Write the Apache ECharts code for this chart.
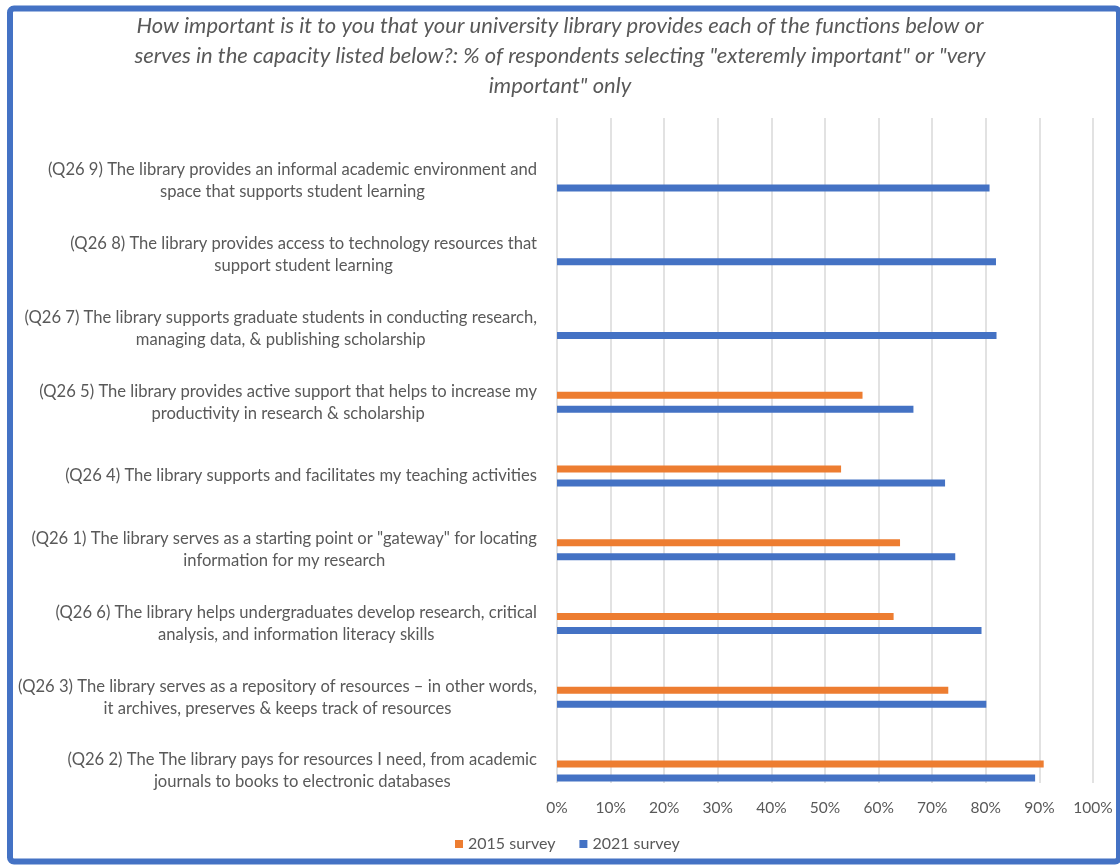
<!DOCTYPE html>
<html>
<head>
<meta charset="utf-8">
<script src="https://cdn.jsdelivr.net/npm/echarts@6/dist/echarts.min.js"></script>
<style>
html,body{margin:0;padding:0;background:#fff;}
#chart{width:1120px;height:865px;}
</style>
</head>
<body>
<div id="chart"></div>
<script>
// Categories, top to bottom as shown
const categories = [
  '(Q26 9) The library provides an informal academic environment and\nspace that supports student learning',
  '(Q26 8) The library provides access to technology resources that\nsupport student learning',
  '(Q26 7) The library supports graduate students in conducting research,\nmanaging data, & publishing scholarship',
  '(Q26 5) The library provides active support that helps to increase my\nproductivity in research & scholarship',
  '(Q26 4) The library supports and facilitates my teaching activities',
  '(Q26 1) The library serves as a starting point or "gateway" for locating\ninformation for my research',
  '(Q26 6) The library helps undergraduates develop research, critical\nanalysis, and information literacy skills',
  '(Q26 3) The library serves as a repository of resources \u2013 in other words,\nit archives, preserves & keeps track of resources',
  '(Q26 2) The The library pays for resources I need, from academic\njournals to books to electronic databases'
];
const seriesNames = ['2015 survey', '2021 survey'];
const survey2015 = [null, null, null, 57.0, 53.0, 64.0, 62.8, 73.0, 90.8];
const survey2021 = [80.7, 81.9, 82.0, 66.5, 72.4, 74.3, 79.2, 80.1, 89.2];
const xTicks = [0, 10, 20, 30, 40, 50, 60, 70, 80, 90, 100];

const titleText = 'How important is it to you that your university library provides each of the functions below or\nserves in the capacity listed below?: % of respondents selecting "exteremly important" or "very\nimportant" only';

const FONT = 'Lato';
const GRAY = '#595959';

const chart = echarts.init(document.getElementById('chart'), null, {renderer: 'canvas'});
chart.setOption({
  backgroundColor: '#ffffff',
  animation: false,
  title: {
    text: titleText,
    left: 'center',
    top: 6,
    textStyle: {
      fontFamily: FONT, fontStyle: 'italic', fontWeight: 'normal',
      fontSize: 22, color: GRAY, lineHeight: 30
    }
  },
  legend: {
    data: seriesNames,
    left: 450,
    top: 831,
    icon: 'rect',
    itemWidth: 8,
    itemHeight: 8,
    itemGap: 24,
    textStyle: {fontFamily: FONT, fontSize: 16, color: GRAY}
  },
  graphic: [{
    type: 'rect',
    shape: {x: 10, y: 8.5, width: 1109, height: 853, r: 4},
    style: {fill: 'none', stroke: '#4472C4', lineWidth: 6},
    silent: true,
    z: 100
  }],
  grid: [
    {left: 557, right: 27, top: 118, bottom: 82},
    {left: 557, right: 27, top: 144, bottom: 57}
  ],
  xAxis: [
    {
      type: 'value', gridIndex: 0, min: xTicks[0], max: xTicks[xTicks.length - 1], interval: 10,
      axisLine: {show: false}, axisTick: {show: false},
      splitLine: {show: true, lineStyle: {color: '#d9d9d9', width: 1.5}},
      axisLabel: {formatter: '{value}%', margin: 17, fontFamily: FONT, fontSize: 15.5, color: GRAY}
    },
    {
      type: 'value', gridIndex: 1, min: xTicks[0], max: xTicks[xTicks.length - 1], interval: 10,
      show: false, splitLine: {show: false}
    }
  ],
  yAxis: [
    {type: 'value', gridIndex: 0, show: false, splitLine: {show: false}},
    {
      type: 'category', gridIndex: 1, data: categories, inverse: true,
      axisLine: {show: false}, axisTick: {show: false}, splitLine: {show: false},
      axisLabel: {
        margin: 20,
        align: 'right',
        formatter: function (v) {
          return v.split('\n').map(function (l) { return '{c|' + l + '}'; }).join('\n');
        },
        rich: {
          c: {align: 'center', fontFamily: FONT, fontSize: 16.6, color: GRAY, lineHeight: 22}
        }
      }
    }
  ],
  series: [
    {
      name: seriesNames[0], type: 'bar', xAxisIndex: 1, yAxisIndex: 1,
      data: survey2015, barWidth: 7, barGap: '100%',
      itemStyle: {color: '#ED7D31'}
    },
    {
      name: seriesNames[1], type: 'bar', xAxisIndex: 1, yAxisIndex: 1,
      data: survey2021, barWidth: 7, barGap: '100%',
      itemStyle: {color: '#4472C4'}
    }
  ]
});
</script>
</body>
</html>
